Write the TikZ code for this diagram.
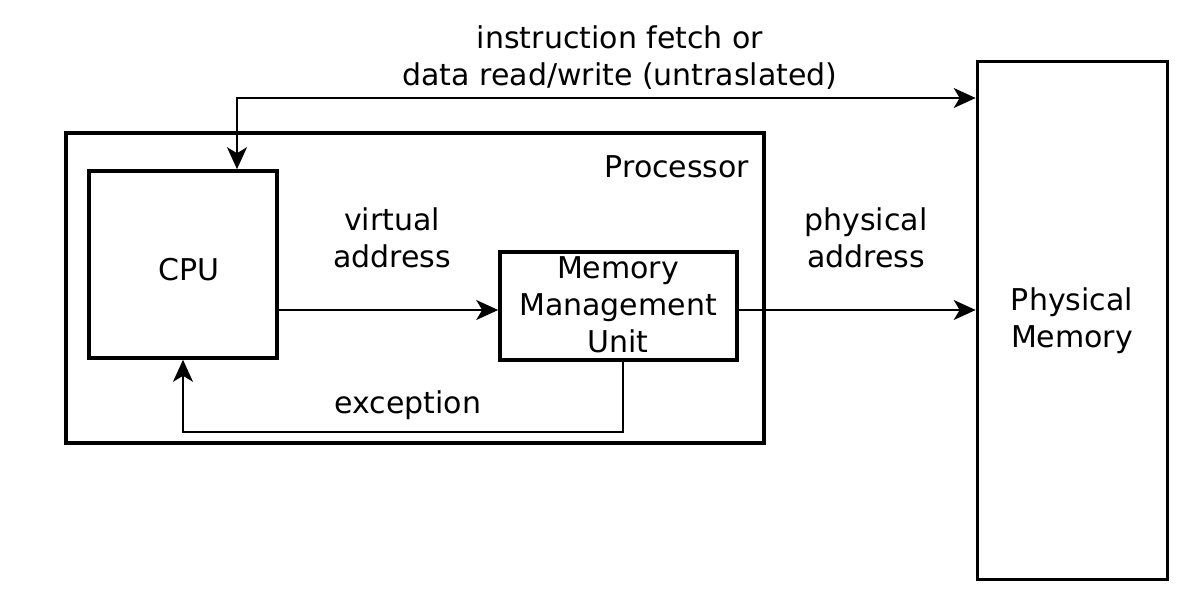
\documentclass[tikz,border=0pt]{standalone}
\usepackage{fontspec}
\setmainfont{DejaVu Sans}
\usetikzlibrary{arrows.meta}
\begin{document}
\begin{tikzpicture}[x=1pt,y=-1pt,
  box/.style={draw, line width=3.6pt, inner sep=0pt},
  tip/.tip={Stealth[length=22pt,width=20pt,inset=6pt]},
  conn/.style={line width=1.8pt, -tip},
  lbl/.style={align=center, inner sep=0pt, font=\fontsize{30}{37}\selectfont},
]
\useasboundingbox (0,0) rectangle (1200,616);
\node[box, minimum width=698pt, minimum height=310pt] (proc) at (415,288) {};
\node[box, minimum width=188pt, minimum height=187pt] (cpu) at (183,264.5) {};
\node[box, minimum width=237pt, minimum height=108pt] (mmu) at (618.5,306) {};
\node[box, minimum width=190pt, minimum height=518pt] (mem) at (1072.5,320.5) {};

\node[lbl] (tproc) at (677,167) {Processor};
\node[lbl] (tcpu) at (189,270) {CPU};
\node[lbl] (tmmu) at (618,305) {Memory\\Management\\Unit};
\node[lbl] (tmem) at (1072,321) {Physical\\Memory};
\node[lbl] (tvirt) at (392,238) {virtual\\address};
\node[lbl] (tphys) at (866,238) {physical\\address};
\node[lbl] (texc) at (408,405) {exception};
\node[lbl] (tfetch) at (620,58) {instruction fetch or\\data read/write (untraslated)};

\coordinate (tl) at (237,98);
\coordinate (ay) at (0,310);
\coordinate (ex) at (623,432);
\coordinate (ex2) at (183,432);

\draw[conn, tip-tip] (tl |- cpu.north) -- (tl) -- (tl -| mem.west);
\draw[conn] (cpu.east |- ay) -- (mmu.west |- ay);
\draw[conn] (mmu.east |- ay) -- (mem.west |- ay);
\draw[conn] (ex |- mmu.south) -- (ex) -- (ex2) -- (cpu.south);
\end{tikzpicture}
\end{document}
